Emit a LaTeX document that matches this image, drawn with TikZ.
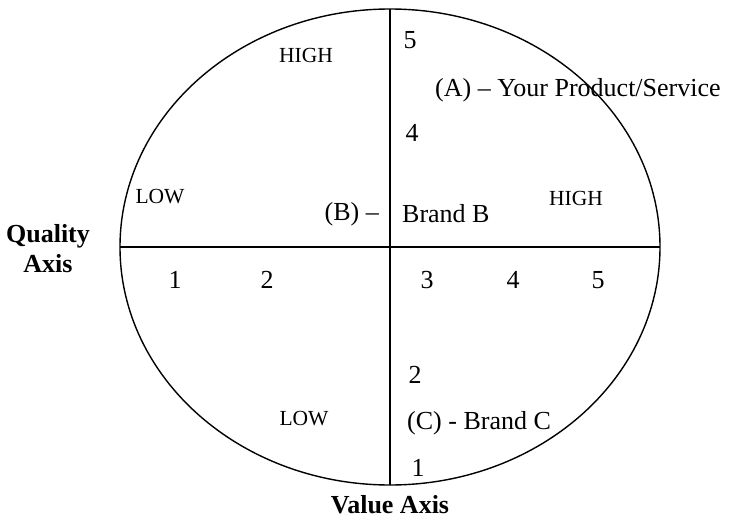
\documentclass[tikz,border=0pt]{standalone}
\usepackage{fontspec}
\setmainfont{Liberation Serif}
\begin{document}
\begin{tikzpicture}[x=1pt,y=-1pt,
  big/.style={font=\fontsize{26}{28}\selectfont, inner sep=0pt},
  small/.style={font=\fontsize{21.5}{24}\selectfont, inner sep=0pt},
  axislabel/.style={font=\fontsize{26}{30}\selectfont\bfseries, inner sep=0pt, align=center},
  frame/.style={line width=1.4pt, black}]
\useasboundingbox (0,0) rectangle (731,519);
% ellipse and axes
\coordinate (c) at (390,247);
\draw[frame] (c) ellipse [x radius=270, y radius=238];
\coordinate (l) at (120,247);
\coordinate (r) at (660,247);
\coordinate (t) at (390,9);
\coordinate (b) at (390,485);
\draw[frame] (l) -- (r);
\draw[frame] (t) -- (b);
% labels
\node[small] (hightop) at (306,55) {HIGH};
\node[small] (highright) at (576,198) {HIGH};
\node[small] (lowleft) at (160,197) {LOW};
\node[small] (lowbottom) at (304,419) {LOW};
\node[big] (v5) at (410,40) {5};
\node[big] (v4) at (412,133) {4};
\node[big] (v2) at (415,375) {2};
\node[big] (v1) at (418,468) {1};
\node[big] (h1) at (175,280) {1};
\node[big] (h2) at (267,280) {2};
\node[big] (h3) at (427,280) {3};
\node[big] (h4) at (513,280) {4};
\node[big] (h5) at (598,280) {5};
\node[big, anchor=west] (A) at (435,90) {(A) – Your Product/Service};
\node[big, anchor=east] (B1) at (379,214) {(B) –};
\node[big, anchor=west] (B2) at (402,214) {Brand B};
\node[big, anchor=west] (C) at (407,423) {(C) - Brand C};
\node[axislabel] (qa) at (48,249) {Quality\\Axis};
\node[axislabel] (va) at (390,505) {Value Axis};
\end{tikzpicture}
\end{document}
